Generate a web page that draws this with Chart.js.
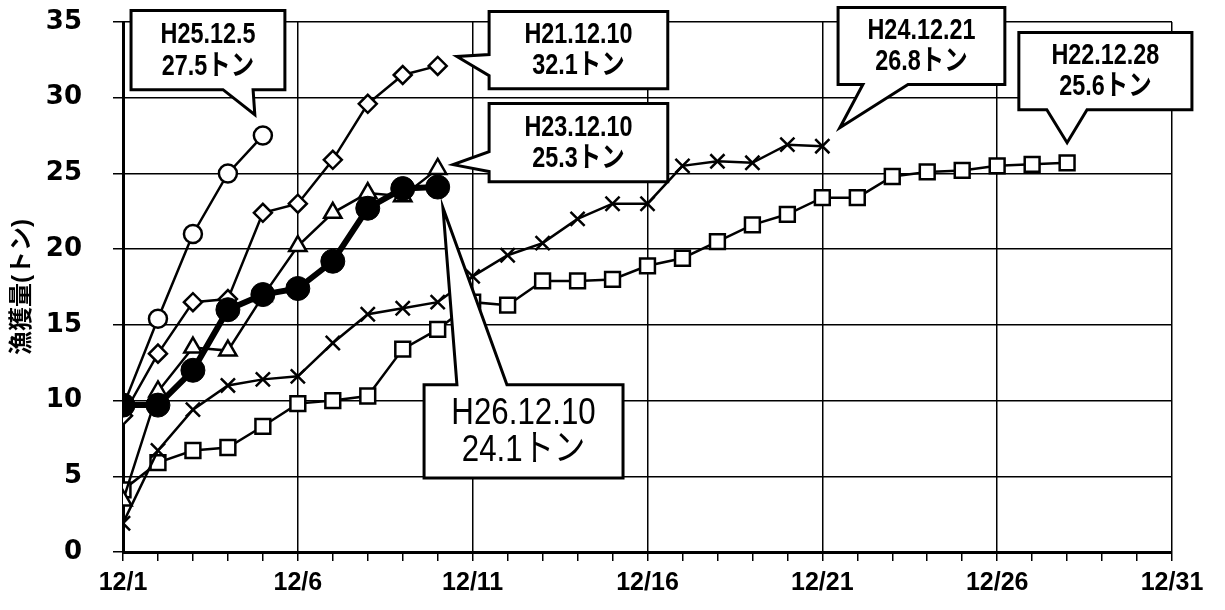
<!DOCTYPE html>
<html>
<head>
<meta charset="utf-8">
<script src="https://cdn.jsdelivr.net/npm/chart.js@4/dist/chart.umd.min.js"></script>
<style>
html,body{margin:0;padding:0;background:#fff;}
#wrap{width:1225px;height:610px;position:relative;}
</style>
</head>
<body>
<div id="wrap"><canvas id="c" width="1225" height="610"></canvas></div>
<script>
// ---- data (day of December, catch in tonnes) ----
const days = [1,2,3,4,5,6,7,8,9,10,11,12,13,14,15,16,17,18,19,20,21,22,23,24,25,26,27,28];
const h26 = [9.7, 9.7, 12.0, 16.0, 17.0, 17.4, 19.2, 22.7, 24.0, 24.1];
const h25 = [9.6, 15.4, 21.0, 25.0, 27.5];
const h21 = [9.0, 13.1, 16.5, 16.7, 22.4, 23.0, 25.9, 29.6, 31.5, 32.1];
const h23 = [3.4, 10.6, 13.5, 13.3, 16.9, 20.2, 22.4, 23.7, 23.5, 25.3];
const h24 = [1.9, 6.7, 9.4, 11.0, 11.4, 11.6, 13.8, 15.7, 16.1, 16.5, 18.2, 19.6, 20.4, 22.0, 23.0, 23.0, 25.5, 25.8, 25.7, 26.9, 26.8];
const h22 = [4.1, 5.9, 6.7, 6.9, 8.3, 9.8, 10.0, 10.3, 13.4, 14.7, 16.5, 16.3, 17.9, 17.9, 18.0, 18.9, 19.4, 20.5, 21.6, 22.3, 23.4, 23.4, 24.8, 25.1, 25.2, 25.5, 25.6, 25.7];
const yTicks = [0,5,10,15,20,25,30,35];
const xTickDays = [1,6,11,16,21,26,31];
const yTitle = '漁獲量(トン)';
const calloutTexts = [
  ['H25.12.5','27.5トン'],
  ['H21.12.10','32.1トン'],
  ['H23.12.10','25.3トン'],
  ['H24.12.21','26.8トン'],
  ['H22.12.28','25.6トン'],
  ['H26.12.10','24.1トン']
];

function pts(arr){ return arr.map((v,i)=>({x:days[i], y:v})); }

// callout geometry in axis (data) units
const callouts = [
  {t:0, box:[1.23,5.63,35.76,30.53], side:'bottom', base:[3.86,4.72], tip:[4.77,28.88], big:false},
  {t:1, box:[11.47,16.58,35.69,30.6], side:'left', base:[32.85,31.46], tip:[10.55,32.72], big:false},
  {t:2, box:[11.47,16.58,29.61,24.45], side:'left', base:[26.44,25.12], tip:[10.44,25.58], big:false},
  {t:3, box:[21.45,26.22,35.95,30.87], side:'bottom', base:[22.16,23.45], tip:[21.5,28.02], big:false},
  {t:4, box:[26.62,31.57,34.3,29.21], side:'bottom', base:[27.42,28.57], tip:[28.0,27.03], big:false},
  {t:5, box:[9.61,15.3,11.04,4.89], side:'top', base:[10.55,11.98], tip:[10.15,22.74], big:true}
];

const calloutPlugin = {
  id:'callouts',
  afterDatasetsDraw(chart){
    const ctx = chart.ctx, xs = chart.scales.x, ys = chart.scales.y;
    const X = v=>xs.getPixelForValue(v), Y = v=>ys.getPixelForValue(v);
    ctx.save();
    callouts.forEach(c=>{
      const x0=X(c.box[0]), x1=X(c.box[1]), yT=Y(c.box[2]), yB=Y(c.box[3]);
      const tx=X(c.tip[0]), ty=Y(c.tip[1]);
      const p=[];
      if(c.side==='bottom'){
        const a=X(c.base[0]), b=X(c.base[1]);
        p.push([x0,yT],[x1,yT],[x1,yB],[b,yB],[tx,ty],[a,yB],[x0,yB]);
      } else if(c.side==='left'){
        const a=Y(c.base[0]), b=Y(c.base[1]);
        p.push([x0,yT],[x1,yT],[x1,yB],[x0,yB],[x0,b],[tx,ty],[x0,a]);
      } else {
        const a=X(c.base[0]), b=X(c.base[1]);
        p.push([x0,yT],[a,yT],[tx,ty],[b,yT],[x1,yT],[x1,yB],[x0,yB]);
      }
      ctx.beginPath();
      p.forEach((q,i)=> i?ctx.lineTo(q[0],q[1]):ctx.moveTo(q[0],q[1]));
      ctx.closePath();
      ctx.fillStyle='#fff'; ctx.fill();
      ctx.lineWidth=3; ctx.strokeStyle='#000'; ctx.lineJoin='miter'; ctx.stroke();
      const lines = calloutTexts[c.t];
      ctx.fillStyle='#000'; ctx.textAlign='center'; ctx.textBaseline='middle';
      ctx.font = c.big ? '34px "Liberation Sans", "Noto Sans CJK JP"'
                       : 'bold 26px "Liberation Sans", "Noto Sans CJK JP"';
      const cx=(x0+x1)/2, h=yB-yT;
      const sx = c.big ? 0.92 : 0.9;
      [0,1].forEach(k=>{
        ctx.save();
        ctx.translate(cx, yT + h*(k? 0.71 : 0.31));
        ctx.scale(sx, 1.1);
        ctx.fillText(lines[k], 0, 0);
        ctx.restore();
      });
    });
    ctx.restore();
  }
};

const common = {borderColor:'#000', pointBorderColor:'#000', pointBackgroundColor:'#fff', borderWidth:2.5, pointBorderWidth:2.5, fill:false, tension:0};

new Chart(document.getElementById('c'), {
  type:'line',
  data:{
    datasets:[
      Object.assign({}, common, {label:'H26', data:pts(h26), borderWidth:6, pointStyle:'circle', pointRadius:12, pointBackgroundColor:'#000', pointBorderWidth:1}),
      Object.assign({}, common, {label:'H25', data:pts(h25), pointStyle:'circle', pointRadius:9}),
      Object.assign({}, common, {label:'H21', data:pts(h21), pointStyle:'rectRot', pointRadius:9}),
      Object.assign({}, common, {label:'H23', data:pts(h23), pointStyle:'triangle', pointRadius:10}),
      Object.assign({}, common, {label:'H24', data:pts(h24), pointStyle:'crossRot', pointRadius:10}),
      Object.assign({}, common, {label:'H22', data:pts(h22), pointStyle:'rect', pointRadius:10.5})
    ]
  },
  options:{
    responsive:false,
    animation:false,
    devicePixelRatio:1,
    layout:{padding:{top:22, right:53, left:0, bottom:0}},
    plugins:{legend:{display:false}, tooltip:{enabled:false}},
    scales:{
      x:{
        type:'linear', min:1, max:31,
        afterBuildTicks(s){ s.ticks = days.concat([29,30,31]).map(v=>({value:v})); },
        afterFit(s){ s.height = 58; },
        ticks:{
          autoSkip:false, maxRotation:0, padding:7, color:'#000',
          font:{family:'"Liberation Sans"', size:25, weight:'bold'},
          callback:(v)=> xTickDays.includes(v) ? '12/'+v : ''
        },
        grid:{
          color:(c)=> (c.tick && xTickDays.includes(c.tick.value)) ? '#000' : 'rgba(0,0,0,0)',
          tickColor:'#000', lineWidth:1.5, tickLength:9, drawOnChartArea:true
        },
        border:{color:'#000', width:3}
      },
      y:{
        min:0, max:35,
        afterBuildTicks(s){ s.ticks = yTicks.map(v=>({value:v})); },
        afterFit(s){ s.width = 123; s.paddingTop = 0; s.paddingBottom = 0; },
        ticks:{
          padding:31, color:'#000',
          font:{family:'"DejaVu Sans"', size:26, weight:'bold'}
        },
        grid:{color:'#000', lineWidth:1.5, tickLength:10},
        border:{color:'#000', width:3},
        title:{display:true, text:yTitle, color:'#000', padding:{top:8,bottom:0},
          font:{family:'"Liberation Sans", "Noto Sans CJK JP"', size:24, weight:'bold'}}
      }
    }
  },
  plugins:[calloutPlugin]
});
</script>
</body>
</html>
